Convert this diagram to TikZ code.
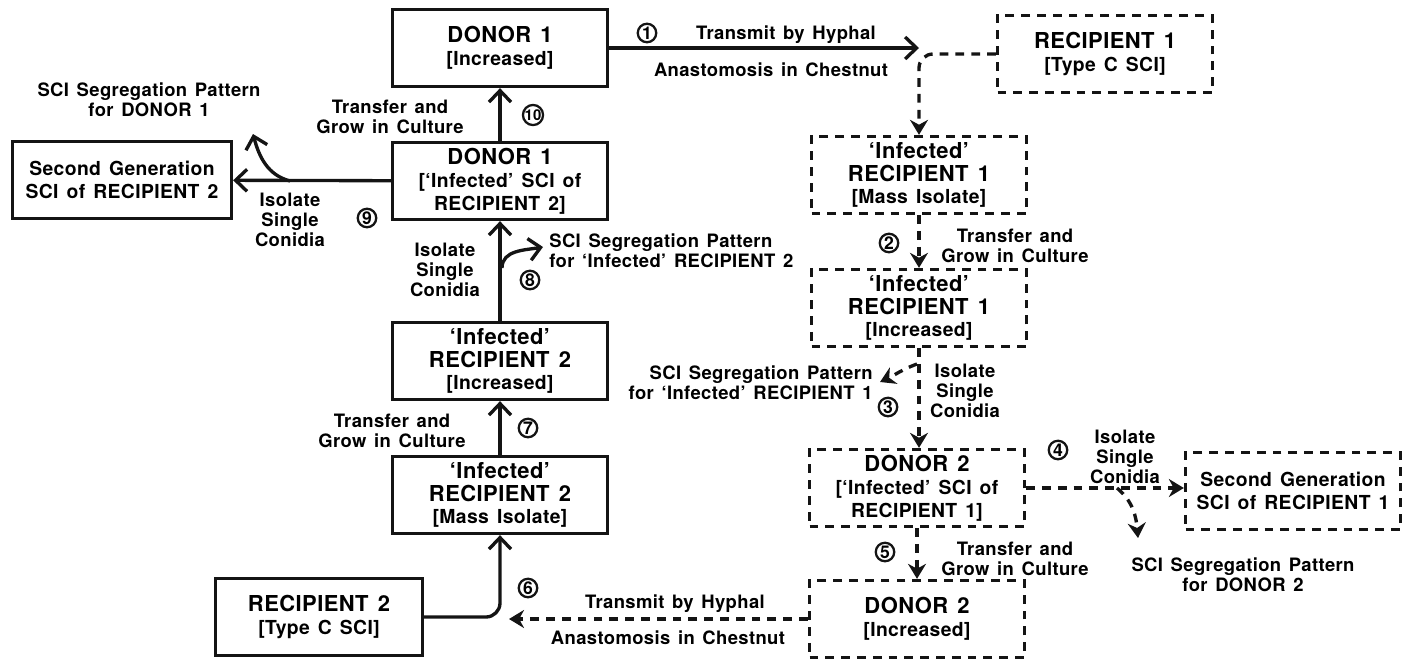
\documentclass[tikz,border=0pt]{standalone}
\usepackage{fontspec}
\setmainfont{TeX Gyre Heros}[LetterSpace=2.0, WordSpace=1.4]
\usetikzlibrary{arrows.meta, positioning}
\definecolor{ink}{RGB}{20,20,20}
\newcommand{\boxsub}[1]{{\fontsize{11}{12}\selectfont #1}}
\tikzset{
    solid_box/.style={
        draw=ink,
        line width=1.9pt,
        minimum width=4.3cm,
        minimum height=1.54cm,
        align=center,
        inner sep=2pt,
        font=\bfseries\fontsize{12.5}{13}\selectfont
    },
    dashed_box/.style={
        solid_box,
        dash pattern=on 5pt off 4pt
    },
    solid_arrow/.style={
        -{Straight Barb[length=2.3mm,width=4.4mm,line width=1.9pt]},
        line width=1.9pt,
        draw=ink
    },
    dashed_arrow/.style={
        -{Stealth[length=3mm,width=3.6mm]},
        line width=1.9pt,
        draw=ink,
        dash pattern=on 5pt off 4pt
    },
    step_label/.style={
        font=\bfseries\fontsize{10.5}{11.5}\selectfont,
        align=center,
        inner sep=0pt
    },
    step_num/.style={
        circle,
        draw=ink,
        line width=1.3pt,
        minimum size=0.37cm,
        inner sep=0pt,
        font=\bfseries\fontsize{10}{10}\selectfont
    }
}
\begin{document}
\begin{tikzpicture}[x=0.02cm, y=-0.02cm]
\useasboundingbox (0,0) rectangle (1412,660);

% Left column: RECIPIENT 2 side (solid)
\node[solid_box] (don1_inc) at (500,48) {DONOR 1\\\boxsub{[Increased]}};
\node[solid_box] (don1) at (500,181) {DONOR 1\\\boxsub{[`Infected' SCI of}\\\boxsub{RECIPIENT 2]}};
\node[solid_box, minimum width=4.38cm] (gen2_rec2) at (122,180) {\boxsub{Second Generation}\\\boxsub{SCI of RECIPIENT 2}};
\node[solid_box] (rec2_inc) at (500,361) {`Infected'\\RECIPIENT 2\\\boxsub{[Increased]}};
\node[solid_box] (rec2_mass) at (500,495) {`Infected'\\RECIPIENT 2\\\boxsub{[Mass Isolate]}};
\node[solid_box, minimum width=4.14cm] (rec2) at (319,617) {RECIPIENT 2\\\boxsub{[Type C SCI]}};

% Right column: RECIPIENT 1 side (dashed)
\node[dashed_box] (rec1) at (1105,54) {RECIPIENT 1\\\boxsub{[Type C SCI]}};
\node[dashed_box] (rec1_mass) at (919,175) {`Infected'\\RECIPIENT 1\\\boxsub{[Mass Isolate]}};
\node[dashed_box] (rec1_inc) at (919,308) {`Infected'\\RECIPIENT 1\\\boxsub{[Increased]}};
\node[dashed_box] (don2) at (917,488) {DONOR 2\\\boxsub{[`Infected' SCI of}\\\boxsub{RECIPIENT 1]}};
\node[dashed_box] (don2_inc) at (917,619) {DONOR 2\\\boxsub{[Increased]}};
\node[dashed_box] (gen2_rec1) at (1293,491) {\boxsub{Second Generation}\\\boxsub{SCI of RECIPIENT 1}};

% Step 1
\draw[solid_arrow] (don1_inc.east) -- (don1_inc.east -| rec1_mass.north);
\draw[dashed_arrow, rounded corners=8pt] (rec1.west) -| (rec1_mass.north);
\node[step_num] (n1) at (647,33) {1};
\node[step_label] (l1a) at (786,35) {Transmit by Hyphal};
\node[step_label] (l1b) at (771,70) {Anastomosis in Chestnut};

% Step 2
\draw[dashed_arrow] (rec1_mass) -- (rec1_inc);
\node[step_num] (n2) at (889,243) {2};
\node[step_label] (l2) at (1015,246) {Transfer and\\Grow in Culture};

% Step 3
\draw[dashed_arrow] (rec1_inc.south) -- (don2.north -| rec1_inc.south);
\coordinate (b3) at (917,364);
\coordinate (b3_end) at (880,382);
\draw[dashed_arrow] (b3) to[out=200, in=25] (b3_end);
\node[step_num] (n3) at (888,407) {3};
\node[step_label, anchor=east, align=right] (seg3) at (873,383) {SCI Segregation Pattern\\for `Infected' RECIPIENT 1};
\node[step_label] (l3) at (965,391) {Isolate\\Single\\Conidia};

% Step 4
\draw[dashed_arrow] (don2.east) -- (don2.east -| gen2_rec1.west);
\coordinate (b4) at (1117,488);
\coordinate (b4_end) at (1138,538);
\draw[dashed_arrow] (b4) to[out=-40, in=95] (b4_end);
\node[step_num] (n4) at (1058,450) {4};
\node[step_label] (l4) at (1125,457) {Isolate\\Single\\Conidia};
\node[step_label] (seg4) at (1243,575) {SCI Segregation Pattern\\for DONOR 2};

% Step 5
\draw[dashed_arrow] (don2) -- (don2_inc);
\node[step_num] (n5) at (885,552) {5};
\node[step_label] (l5) at (1015,559) {Transfer and\\Grow in Culture};

% Step 6
\draw[dashed_arrow, shorten >=0.18cm] (don2_inc.west) -- (don2_inc.west -| rec2_mass.south);
\draw[solid_arrow, rounded corners=8pt] (rec2.east) -| (rec2_mass.south);
\node[step_num] (n6) at (528,588) {6};
\node[step_label] (l6a) at (675,604) {Transmit by Hyphal};
\node[step_label] (l6b) at (668,638) {Anastomosis in Chestnut};

% Step 7
\draw[solid_arrow] (rec2_mass) -- (rec2_inc);
\node[step_num] (n7) at (528,428) {7};
\node[step_label] (l7) at (392,431) {Transfer and\\Grow in Culture};

% Step 8
\draw[solid_arrow] (rec2_inc) -- (don1);
\coordinate (b8) at (502,268);
\coordinate (b8_end) at (543,247);
\draw[solid_arrow] (b8) to[out=90, in=190] (b8_end);
\node[step_num] (n8) at (530,280) {8};
\node[step_label, anchor=west, align=left] (seg8) at (549,251) {SCI Segregation Pattern\\for `Infected' RECIPIENT 2};
\node[step_label] (l8) at (445,270) {Isolate\\Single\\Conidia};

% Step 9
\draw[solid_arrow] (don1) -- (gen2_rec2);
\coordinate (b9) at (290,181);
\coordinate (b9_end) at (253,134);
\draw[solid_arrow] (b9) to[out=165, in=-75] (b9_end);
\node[step_num] (n9) at (367,218) {9};
\node[step_label] (l9) at (290,220) {Isolate\\Single\\Conidia};
\node[step_label] (seg9) at (149,100) {SCI Segregation Pattern\\for DONOR 1};

% Step 10
\draw[solid_arrow] (don1) -- (don1_inc);
\node[step_num, font=\bfseries\fontsize{8.5}{8.5}\selectfont] (n10) at (533,115) {10};
\node[step_label] (l10) at (390,117) {Transfer and\\Grow in Culture};

\end{tikzpicture}
\end{document}
